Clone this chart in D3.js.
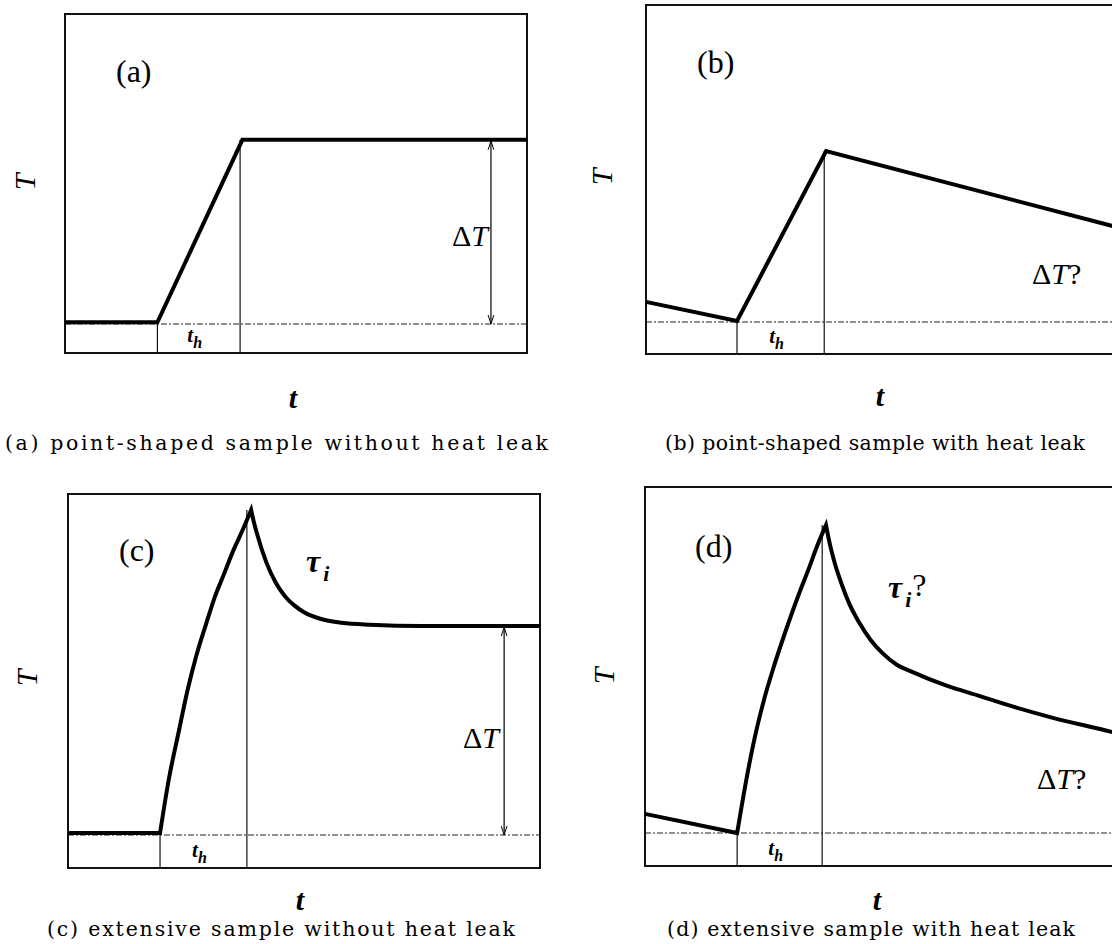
<!DOCTYPE html>
<html>
<head>
<meta charset="utf-8">
<script src="https://cdn.jsdelivr.net/npm/d3@7"></script>
<style>
  html, body { margin: 0; padding: 0; background: #fff; }
  svg { display: block; }
</style>
</head>
<body>
<svg id="fig" width="1112" height="944"></svg>
<script>
// ---------------- data ----------------
// time t in arbitrary units (0..10 across each frame), temperature T relative to the bath (baseline = 0)
const captions = [
  "(a) point-shaped sample without heat leak",
  "(b) point-shaped sample with heat leak",
  "(c) extensive sample without heat leak",
  "(d) extensive sample with heat leak"
];
const panelTags = ["(a)", "(b)", "(c)", "(d)"];

// heater switched on / off
const heatOn  = [2.00, 1.92, 1.95, 1.94];
const heatOff = [3.79, 3.76, 3.79, 3.73];

// (a) point-shaped, no leak
const aTime = [0, 2.00, 3.84, 10];
const aTemp = [0.06, 0.06, 6.35, 6.35];

// (b) point-shaped, with leak
const bTime = [0, 1.92, 3.80, 10];
const bTemp = [0.63, 0.03, 5.34, 2.94];

// (c) extensive, no leak
const cFlatTime = [0, 1.95];
const cFlatTemp = [0.06, 0.06];
const cRiseTime = [1.95, 2.14, 2.34, 2.53, 2.72, 2.92, 3.11, 3.30, 3.49, 3.69, 3.88];
const cRiseTemp = [0.06, 1.72, 3.09, 4.37, 5.44, 6.37, 7.21, 7.89, 8.58, 9.21, 9.85];
const cFallTime = [3.88, 3.94, 4.00, 4.20, 4.40, 4.60, 4.80, 5.00, 5.40, 5.80, 6.40, 7.50, 10];
const cFallTemp = [9.85, 9.47, 9.15, 8.27, 7.65, 7.23, 6.95, 6.75, 6.53, 6.43, 6.37, 6.33, 6.33];

// (d) extensive, with leak
const dLeakTime = [0, 1.94];
const dLeakTemp = [0.58, 0.0];
const dRiseTime = [1.94, 2.13, 2.31, 2.50, 2.69, 2.88, 3.06, 3.25, 3.44, 3.62, 3.81];
const dRiseTemp = [0.0, 1.59, 2.89, 4.01, 4.94, 5.78, 6.53, 7.28, 7.98, 8.68, 9.33];
const dFallTime = [3.81, 3.90, 4.00, 4.15, 4.30, 4.50, 4.75, 5.00, 5.30, 5.60, 6.32, 7.05, 7.77, 8.51, 9.66, 10];
const dFallTemp = [9.33, 8.70, 8.15, 7.50, 6.95, 6.40, 5.85, 5.45, 5.10, 4.90, 4.48, 4.15, 3.82, 3.52, 3.12, 3.00];

// measured temperature step (arrow) where it is well defined
const deltaT    = [6.35, null, 6.33, null];
const arrowTime = [9.22, null, 9.24, null];

// ---------------- layout ----------------
const frames = [
  { x: 65,  y: 14,  w: 462, h: 339, unit: 29 },
  { x: 646, y: 5,   w: 474, h: 349, unit: 32 },
  { x: 68,  y: 494, w: 472, h: 374, unit: 33 },
  { x: 645, y: 487, w: 475, h: 379, unit: 33 }
];

const lin = d3.curveLinear, smooth = d3.curveMonotoneX;
const traces = [
  [{ t: aTime, T: aTemp, curve: lin }],
  [{ t: bTime, T: bTemp, curve: lin }],
  [{ t: cFlatTime, T: cFlatTemp, curve: lin },
   { t: cRiseTime, T: cRiseTemp, curve: smooth },
   { t: cFallTime, T: cFallTemp, curve: smooth }],
  [{ t: dLeakTime, T: dLeakTemp, curve: lin },
   { t: dRiseTime, T: dRiseTemp, curve: smooth },
   { t: dFallTime, T: dFallTemp, curve: smooth }]
];

const svg = d3.select("#fig");
const SERIF = "'Liberation Serif', 'Times New Roman', serif";
const CAPTION_FONT = "'DejaVu Serif', serif";

svg.append("defs").append("marker")
  .attr("id", "tip")
  .attr("viewBox", "0 0 10 10")
  .attr("refX", 10).attr("refY", 5)
  .attr("markerWidth", 9).attr("markerHeight", 9)
  .attr("markerUnits", "userSpaceOnUse")
  .attr("orient", "auto-start-reverse")
  .append("path")
  .attr("d", "M0,1.8 L10,5 L0,8.2")
  .attr("fill", "none").attr("stroke", "#000").attr("stroke-width", 1.1);

// joins several line pieces into one continuous path so that corners stay sharp
function tracePath(segs, x, y) {
  let d = "";
  segs.forEach((s, k) => {
    const pts = s.t.map((t, j) => [t, s.T[j]]);
    let p = d3.line().x(p => x(p[0])).y(p => y(p[1])).curve(s.curve)(pts);
    if (k > 0) p = p.replace(/^M[0-9.,\-e]+/, "");
    d += p;
  });
  return d;
}

frames.forEach((F, i) => {
  const g = svg.append("g");
  const yMax = F.h / F.unit - 1;
  const x = d3.scaleLinear().domain([0, 10]).range([F.x, F.x + F.w]);
  const y = d3.scaleLinear().domain([-1, yMax]).range([F.y + F.h, F.y]);

  // frame
  g.append("rect")
    .attr("x", x(0)).attr("y", y(yMax))
    .attr("width", x(10) - x(0)).attr("height", y(-1) - y(yMax))
    .attr("fill", "none").attr("stroke", "#111").attr("stroke-width", 2);

  // bath-temperature reference (dash-dot)
  g.append("line")
    .attr("x1", x(0)).attr("x2", x(10))
    .attr("y1", y(0)).attr("y2", y(0))
    .attr("stroke", "#222").attr("stroke-width", 1.2)
    .attr("stroke-dasharray", "6,2,2,2");

  // heating interval markers
  const peak = d3.max(traces[i], s => d3.max(s.T));
  g.append("line")
    .attr("x1", x(heatOn[i])).attr("x2", x(heatOn[i]))
    .attr("y1", y(-1)).attr("y2", y(0))
    .attr("stroke", "#111").attr("stroke-width", 1.2);
  g.append("line")
    .attr("x1", x(heatOff[i])).attr("x2", x(heatOff[i]))
    .attr("y1", y(-1)).attr("y2", y(peak))
    .attr("stroke", "#111").attr("stroke-width", 1.2);

  // temperature trace
  g.append("path")
    .attr("d", tracePath(traces[i], x, y))
    .attr("fill", "none").attr("stroke", "#000")
    .attr("stroke-width", 4)
    .attr("stroke-linejoin", "miter").attr("stroke-miterlimit", 40);

  // ΔT arrow
  if (deltaT[i] !== null) {
    g.append("line")
      .attr("x1", x(arrowTime[i])).attr("x2", x(arrowTime[i]))
      .attr("y1", y(deltaT[i]) + 1).attr("y2", y(0))
      .attr("stroke", "#000").attr("stroke-width", 1.2)
      .attr("marker-start", "url(#tip)").attr("marker-end", "url(#tip)");
  }

  // t_h label, centred in the heating interval
  const th = g.append("text")
    .attr("x", (x(heatOn[i]) + x(heatOff[i])) / 2 - 4)
    .attr("y", y(-1) - 11)
    .attr("text-anchor", "middle")
    .attr("font-family", SERIF).attr("font-style", "italic").attr("font-weight", "bold")
    .attr("font-size", 21);
  th.append("tspan").text("t");
  th.append("tspan").attr("dy", 6).attr("font-size", 16).text("h");
});

// ---------------- text ----------------
const tagPos   = [[116, 82], [697, 73], [119, 561], [695, 557]];
const yLabPos  = [[24, 182], [601, 177], [26, 678], [603, 676]];
const xLabPos  = [[293, 408], [880, 406], [300, 910], [877, 910]];
const capPos   = [[5, 548, 450], [665, 1085, 450], [47, 515, 936], [667, 1075, 936]];

tagPos.forEach((p, i) => {
  svg.append("text").attr("x", p[0]).attr("y", p[1])
    .attr("font-family", SERIF).attr("font-size", 32).text(panelTags[i]);
});
yLabPos.forEach(p => {
  svg.append("text")
    .attr("transform", `translate(${p[0]},${p[1]}) rotate(-90)`)
    .attr("text-anchor", "middle").attr("dominant-baseline", "central")
    .attr("font-family", SERIF).attr("font-style", "italic").attr("font-size", 30)
    .text("T");
});
xLabPos.forEach(p => {
  svg.append("text").attr("x", p[0]).attr("y", p[1])
    .attr("text-anchor", "middle")
    .attr("font-family", SERIF).attr("font-style", "italic").attr("font-weight", "bold")
    .attr("font-size", 30).text("t");
});
capPos.forEach((p, i) => {
  svg.append("text").attr("x", p[0]).attr("y", p[2])
    .attr("font-family", CAPTION_FONT).attr("font-size", 20.5)
    .attr("textLength", p[1] - p[0]).attr("lengthAdjust", "spacing")
    .text(captions[i]);
});

// ΔT labels
function deltaLabel(px, py, anchor, question) {
  const t = svg.append("text").attr("x", px).attr("y", py)
    .attr("text-anchor", anchor)
    .attr("font-family", SERIF).attr("font-size", 30);
  t.append("tspan").text("Δ");
  t.append("tspan").attr("font-style", "italic").text("T");
  if (question) t.append("tspan").text("?");
}
deltaLabel(488, 246, "end", false);
deltaLabel(1032, 284, "start", true);
deltaLabel(499, 748, "end", false);
deltaLabel(1037, 789, "start", true);

// internal relaxation time labels
function tauLabel(px, py, question) {
  const t = svg.append("text").attr("x", px).attr("y", py)
    .attr("font-family", SERIF).attr("font-size", 32);
  t.append("tspan").attr("font-style", "italic").attr("font-weight", "bold").text("τ");
  t.append("tspan").attr("dy", 9).attr("dx", 3).attr("font-size", 22)
    .attr("font-style", "italic").attr("font-weight", "bold").text("i");
  if (question) t.append("tspan").attr("dy", -11).attr("dx", 1).text("?");
}
tauLabel(306, 572, false);
tauLabel(888, 598, true);
</script>
</body>
</html>
